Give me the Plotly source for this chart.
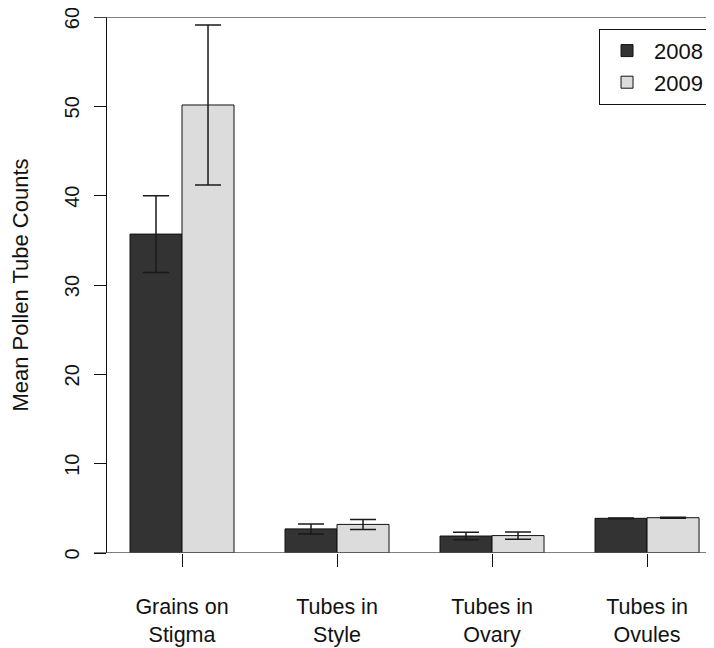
import plotly.graph_objects as go

categories = ["Grains on<br>Stigma", "Tubes in<br>Style", "Tubes in<br>Ovary", "Tubes in<br>Ovules"]
years = ["2008", "2009"]
means_2008 = [35.7, 2.7, 1.9, 3.88]
errs_2008 = [4.3, 0.56, 0.41, 0.05]
means_2009 = [50.15, 3.2, 1.95, 3.95]
errs_2009 = [8.95, 0.56, 0.4, 0.05]
y_ticks = [0, 10, 20, 30, 40, 50, 60]

FONT = "Liberation Sans, Arial, Helvetica, sans-serif"

fig = go.Figure()
for name, means, errs, color in [
    (years[0], means_2008, errs_2008, "#333333"),
    (years[1], means_2009, errs_2009, "#dcdcdc"),
]:
    fig.add_trace(go.Bar(
        x=categories, y=means, name=name,
        marker=dict(color=color, line=dict(color="#111111", width=1)),
        error_y=dict(type="data", array=errs, visible=True,
                     color="#1a1a1a", thickness=1.5, width=13),
    ))

fig.update_layout(
    width=706, height=640,
    margin=dict(l=99, r=0, t=9, b=95, autoexpand=False),
    plot_bgcolor="white", paper_bgcolor="white",
    barmode="group", bargap=0.329, bargroupgap=0,
    font=dict(family=FONT, size=22, color="#111111"),
    showlegend=True,
    legend=dict(x=0.9918, y=0.978, xanchor="right", yanchor="top",
                bordercolor="#111111", borderwidth=1, bgcolor="white",
                itemwidth=44, font=dict(size=22)),
    xaxis=dict(
        type="category", range=[-0.4839, 3.432],
        showline=False, showgrid=False, zeroline=False,
        ticks="outside", ticklen=13, tickwidth=1, tickcolor="#111111",
        ticklabelstandoff=21, tickfont=dict(size=21.5),
    ),
    yaxis=dict(
        range=[0, 60], tickvals=y_ticks, tickangle=-90,
        showline=True, linecolor="#111111", linewidth=1,
        showgrid=False, zeroline=False,
        ticks="outside", ticklen=12, tickwidth=1, tickcolor="#111111",
        ticklabelstandoff=7, ticklabeloverflow="allow",
        ticklabelshift=4, tickfont=dict(size=20),
        title=dict(text="Mean Pollen Tube Counts", standoff=45, font=dict(size=22)),
    ),
    shapes=[
        dict(type="line", xref="paper", yref="y", x0=-0.0214, x1=1, y0=0, y1=0,
             line=dict(color="#555555", width=1.5), layer="above"),
        dict(type="line", xref="paper", yref="y", x0=-0.0214, x1=1, y0=60, y1=60,
             line=dict(color="#555555", width=1.5), layer="above"),
    ],
)

fig.write_html("out.html")
